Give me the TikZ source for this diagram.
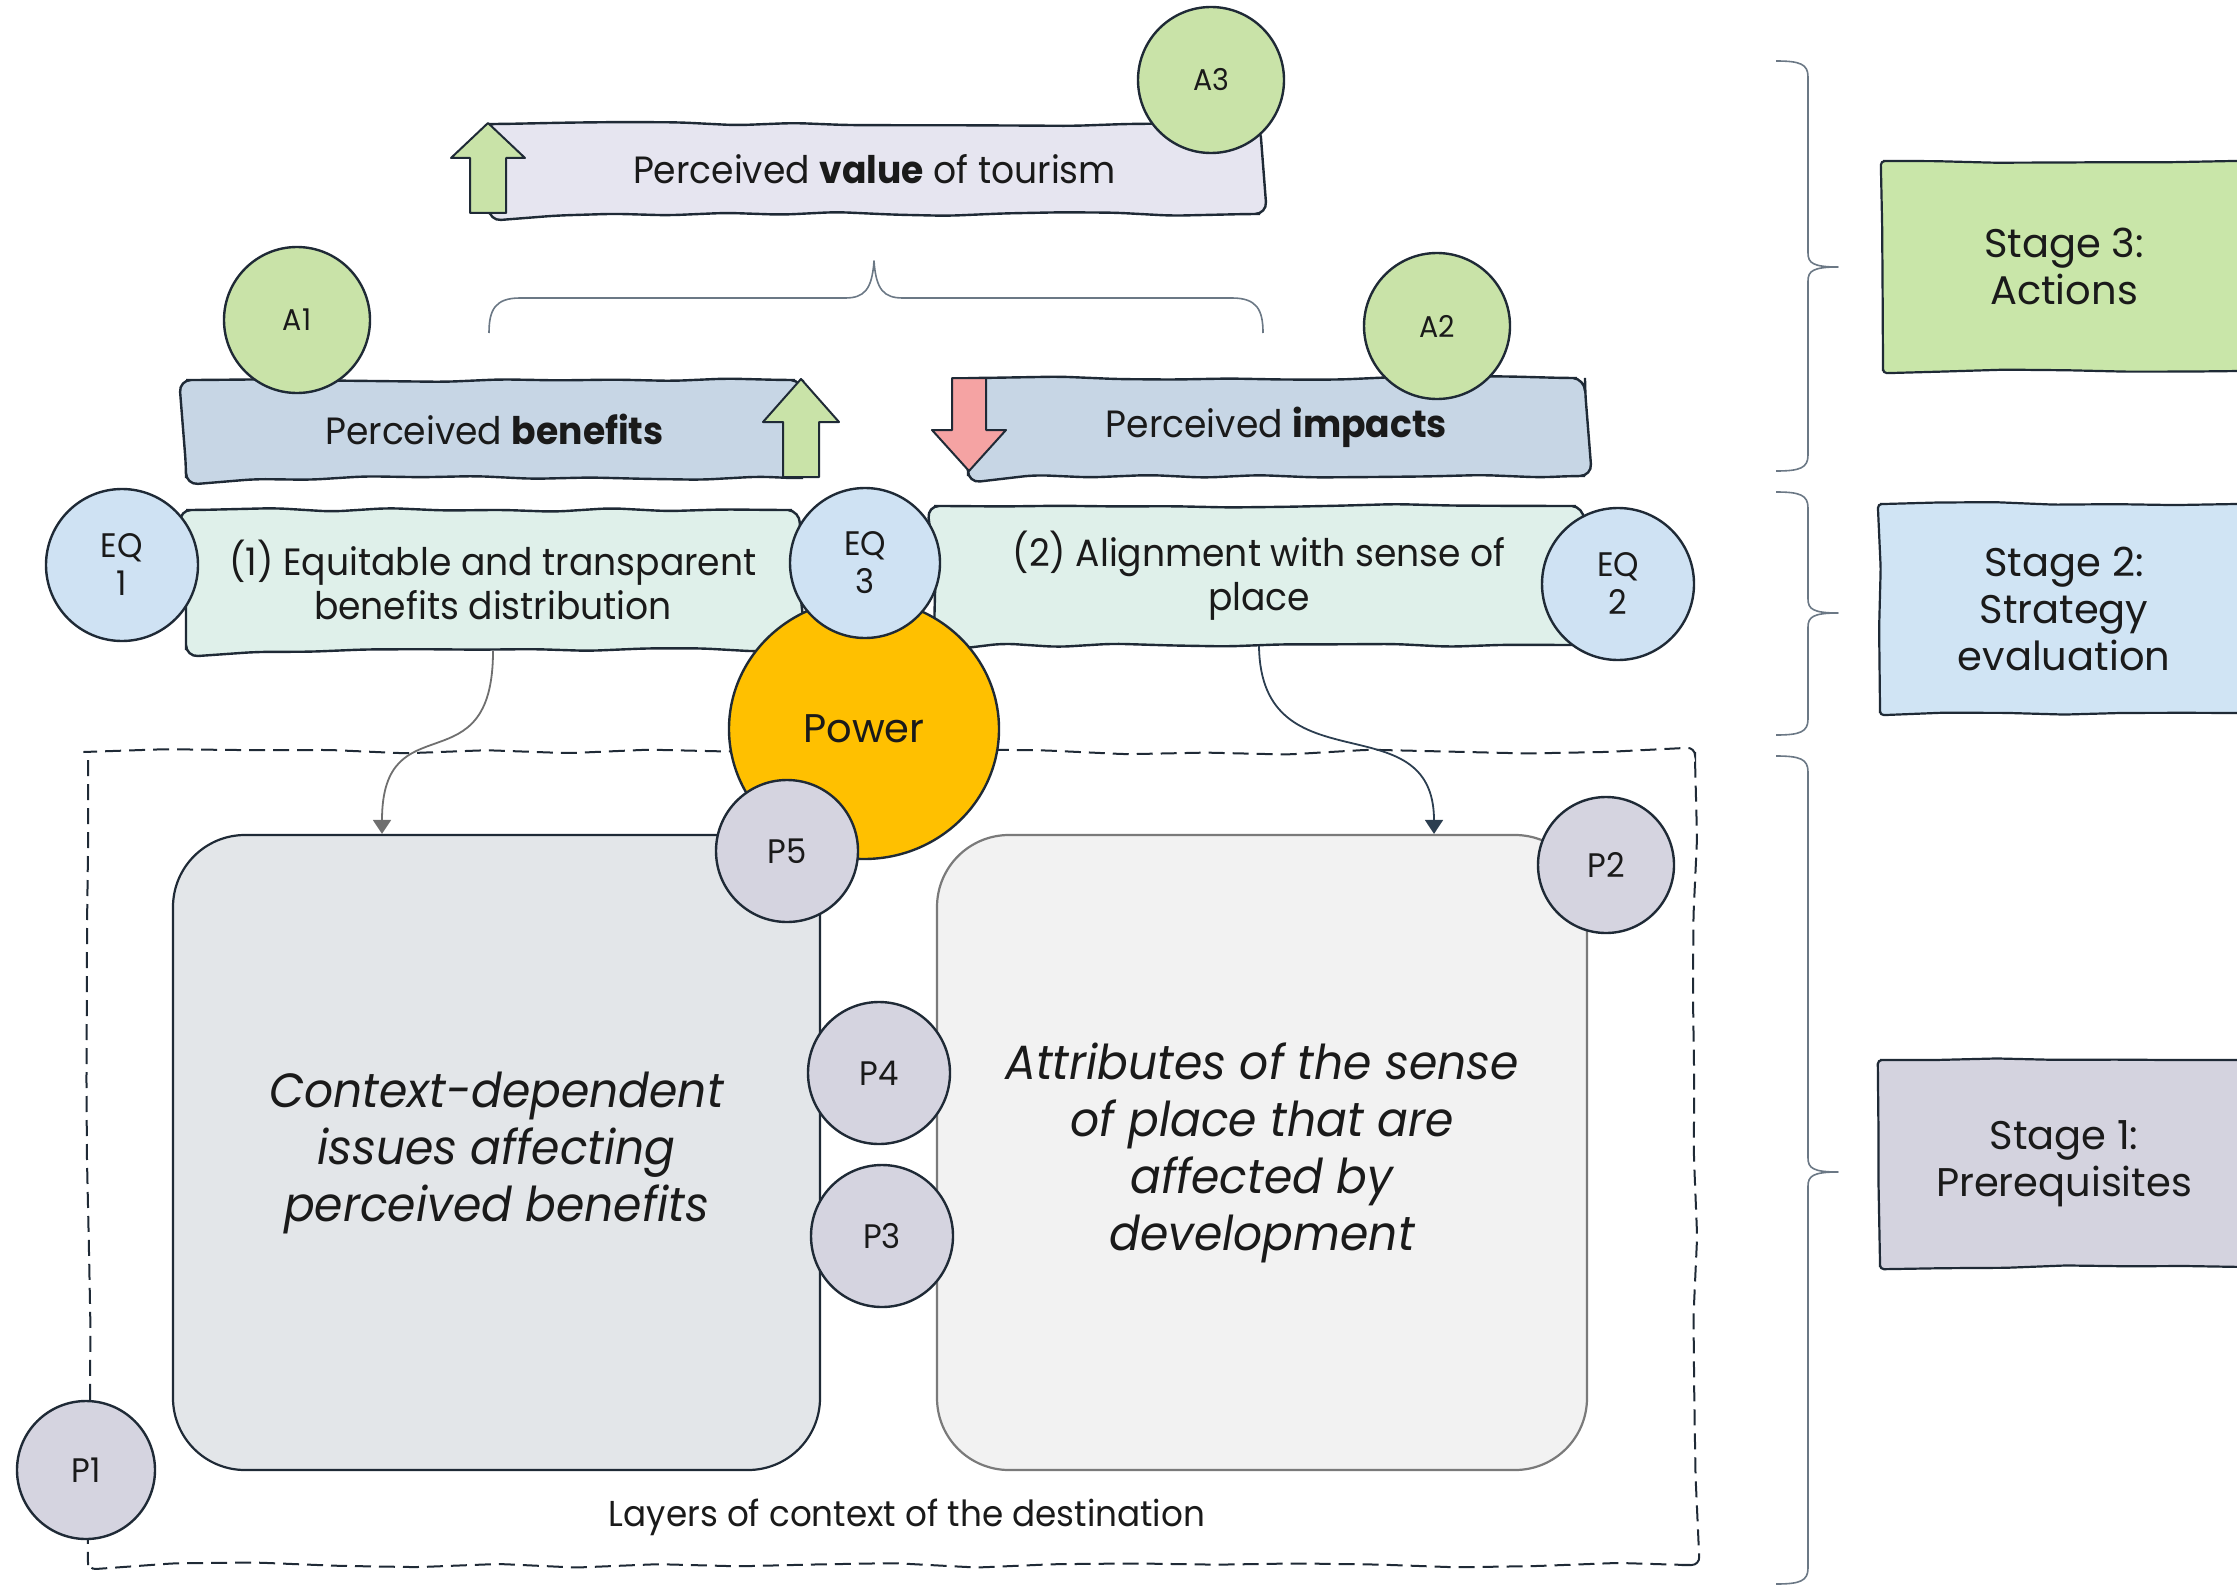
\documentclass[tikz,border=0pt]{standalone}
\usepackage{fontspec}
\setmainfont{Poppins}
\newfontfamily\condfont[FakeStretch=0.95]{Poppins}
\usetikzlibrary{shapes.geometric,decorations.pathmorphing,arrows.meta}

\definecolor{ink}{HTML}{1F2A36}
\definecolor{txt}{HTML}{1A1A1A}
\definecolor{valfill}{HTML}{E6E5F0}
\definecolor{barfill}{HTML}{C7D6E5}
\definecolor{mintfill}{HTML}{DFF0EA}
\definecolor{greenc}{HTML}{C9E3A8}
\definecolor{bluec}{HTML}{CFE2F3}
\definecolor{greyc}{HTML}{D5D4E0}
\definecolor{powerc}{HTML}{FFC000}
\definecolor{lbfill}{HTML}{E3E6E9}
\definecolor{rbfill}{HTML}{F2F2F2}
\definecolor{rbline}{HTML}{7A7A7A}
\definecolor{redarrow}{HTML}{F5A3A3}
\definecolor{bracec}{HTML}{6B7885}
\definecolor{linkgrey}{HTML}{6F6F6F}
\definecolor{linknavy}{HTML}{2C3E50}
\definecolor{stagegreen}{HTML}{C9E6A9}
\definecolor{stageblue}{HTML}{D0E4F4}
\definecolor{stagegrey}{HTML}{D4D3DF}

\tikzset{
  sketchy/.style={decorate, decoration={random steps, segment length=28pt, amplitude=1pt,
    pre length=4pt, post length=4pt}, rounded corners=6pt},
  bar/.style={sketchy, draw=ink, line width=1.2pt, inner sep=0pt, align=center, text=txt,
    font=\condfont\fontsize{19}{22}\selectfont},
  dot/.style={circle, draw=ink, line width=1.2pt, inner sep=0pt, align=center, text=txt,
    font=\condfont\fontsize{17}{19}\selectfont},
  bigbox/.style={line width=1.1pt, rounded corners=36pt, inner sep=0pt, align=center, text=txt,
    font=\condfont\itshape\fontsize{24}{28.5}\selectfont},
  stagebox/.style={draw=ink, line width=1.1pt, decorate, decoration={random steps, segment length=30pt, amplitude=1pt,
    pre length=4pt, post length=4pt}, rounded corners=2pt, inner sep=0pt, align=center, text=txt,
    font=\fontsize{20}{23.5}\selectfont},
  bracket/.style={draw=bracec, line width=0.8pt, line join=round},
  link/.style={line width=0.9pt, -{Triangle[length=7pt,width=9pt]}},
  blockarrow/.style={draw=ink, line width=1pt, line join=round},
  frame/.style={draw=ink, line width=1pt, dash pattern=on 8pt off 4pt, decorate,
    decoration={random steps, segment length=40pt, amplitude=1.5pt}, rounded corners=4pt},
}

\begin{document}
\begin{tikzpicture}[x=0.5pt,y=-0.5pt]
\pgfmathsetseed{11}
\useasboundingbox (0,0) rectangle (2237,1589);
\clip (0,0) rectangle (2237,1589);

% context layers of the destination
\draw[frame] (88,752) rectangle (1695,1565);
\node[font=\condfont\fontsize{18}{20}\selectfont, text=txt] (layers) at (907,1517) {Layers of context of the destination};

% the two prerequisite blocks
\node[bigbox, draw=ink, fill=lbfill, minimum width=323.5pt, minimum height=317.5pt] (lb) at (496.5,1152.5)
  {Context-dependent\\issues affecting\\perceived benefits};
\node[bigbox, draw=rbline, fill=rbfill, minimum width=325pt, minimum height=317.5pt] (rb) at (1262,1152.5)
  {Attributes of the sense\\of place that are\\affected by\\development};

% strategy boxes
\node[bar, fill=mintfill, minimum width=307pt, minimum height=70pt] (s1) at (493,580)
  {(1) Equitable and transparent\\benefits distribution};
\node[bar, fill=mintfill, minimum width=325pt, minimum height=69.5pt] (s2) at (1259,575.5)
  {(2) Alignment with sense of\\place};

% links from strategies to prerequisites
\coordinate (t1) at (382,0);
\coordinate (t2) at (1434,0);
\draw[link, draw=linkgrey] (s1.south) .. controls (493,790) and (382,700) .. (lb.north -| t1);
\draw[link, draw=linknavy] (s2.south) .. controls (1261,790) and (1434,700) .. (rb.north -| t2);

% perceptions
\node[bar, fill=valfill, minimum width=385.5pt, minimum height=45pt] (vb) at (874.5,169)
  {Perceived \textbf{value} of tourism};
\node[bar, fill=barfill, minimum width=308.5pt, minimum height=49pt] (bb) at (494.5,429)
  {Perceived \textbf{benefits}};
\node[bar, fill=barfill, minimum width=308.5pt, minimum height=49pt] (ib) at (1276.5,427)
  {Perceived \textbf{impacts}};

% direction arrows
\draw[blockarrow, fill=greenc] (470,213) -- (470,158) -- (451,158) -- (488,123) -- (525,158) -- (506,158) -- (506,213) -- cycle;
\draw[blockarrow, fill=greenc] (783,477) -- (783,422) -- (763,422) -- (801,379) -- (839,422) -- (819,422) -- (819,477) -- cycle;
\draw[blockarrow, fill=redarrow] (952,378) -- (952,430) -- (932,430) -- (969,471) -- (1006,430) -- (986,430) -- (986,378) -- cycle;

% power and markers
\node[ellipse, draw=ink, line width=1.2pt, fill=powerc, minimum width=135pt, minimum height=130pt, inner sep=0pt,
  text=txt, font=\fontsize{20}{22}\selectfont] (power) at (864,729) {Power};

\node[dot, fill=bluec, minimum size=76pt] (eq1) at (122,565) {EQ\\1};
\node[dot, fill=bluec, minimum size=75pt] (eq3) at (865,563) {EQ\\3};
\node[dot, fill=bluec, minimum size=76pt] (eq2) at (1618,584) {EQ\\2};

\node[dot, fill=greenc, minimum size=73pt, font=\condfont\fontsize{15}{17}\selectfont] (a1) at (297,320) {A1};
\node[dot, fill=greenc, minimum size=73pt, font=\condfont\fontsize{15}{17}\selectfont] (a2) at (1437,326) {A2};
\node[dot, fill=greenc, minimum size=73pt, font=\condfont\fontsize{15}{17}\selectfont] (a3) at (1211,80) {A3};

\node[dot, fill=greyc, minimum size=71pt] (p5) at (787,851) {P5};
\node[dot, fill=greyc, minimum size=68pt] (p2) at (1606,865) {P2};
\node[dot, fill=greyc, minimum size=71pt] (p4) at (879,1073) {P4};
\node[dot, fill=greyc, minimum size=71pt] (p3) at (882,1236) {P3};
\node[dot, fill=greyc, minimum size=69pt] (p1) at (86,1470) {P1};

% grouping brace over the two perceptions
\draw[bracket] (489,333) .. controls (489,310) and (495,298) .. (520,298)
  -- (845,298) .. controls (864,298) and (872,290) .. (874,261)
  .. controls (876,290) and (884,298) .. (903,298)
  -- (1232,298) .. controls (1257,298) and (1263,310) .. (1263,333);

% stage braces
\foreach \ya/\ym/\yb in {61/267/471, 492/613/735, 756/1172/1584}{
  \draw[bracket] (1776,\ya) .. controls (1800,\ya) and (1808,\ya+3) .. (1808,\ya+16)
    -- (1808,\ym-14) .. controls (1808,\ym-4) and (1813,\ym) .. (1838,\ym)
    .. controls (1813,\ym) and (1808,\ym+4) .. (1808,\ym+14)
    -- (1808,\yb-16) .. controls (1808,\yb-3) and (1800,\yb) .. (1776,\yb);
}

% stage labels
\node[stagebox, fill=stagegreen, minimum width=181pt, minimum height=105pt] (st3) at (2064,266) {Stage 3:\\Actions};
\node[stagebox, fill=stageblue, minimum width=184pt, minimum height=104.5pt] (st2) at (2064,608.5) {Stage 2:\\Strategy\\evaluation};
\node[stagebox, fill=stagegrey, minimum width=184pt, minimum height=103.5pt] (st1) at (2064,1163.5) {Stage 1:\\Prerequisites};
\end{tikzpicture}
\end{document}
